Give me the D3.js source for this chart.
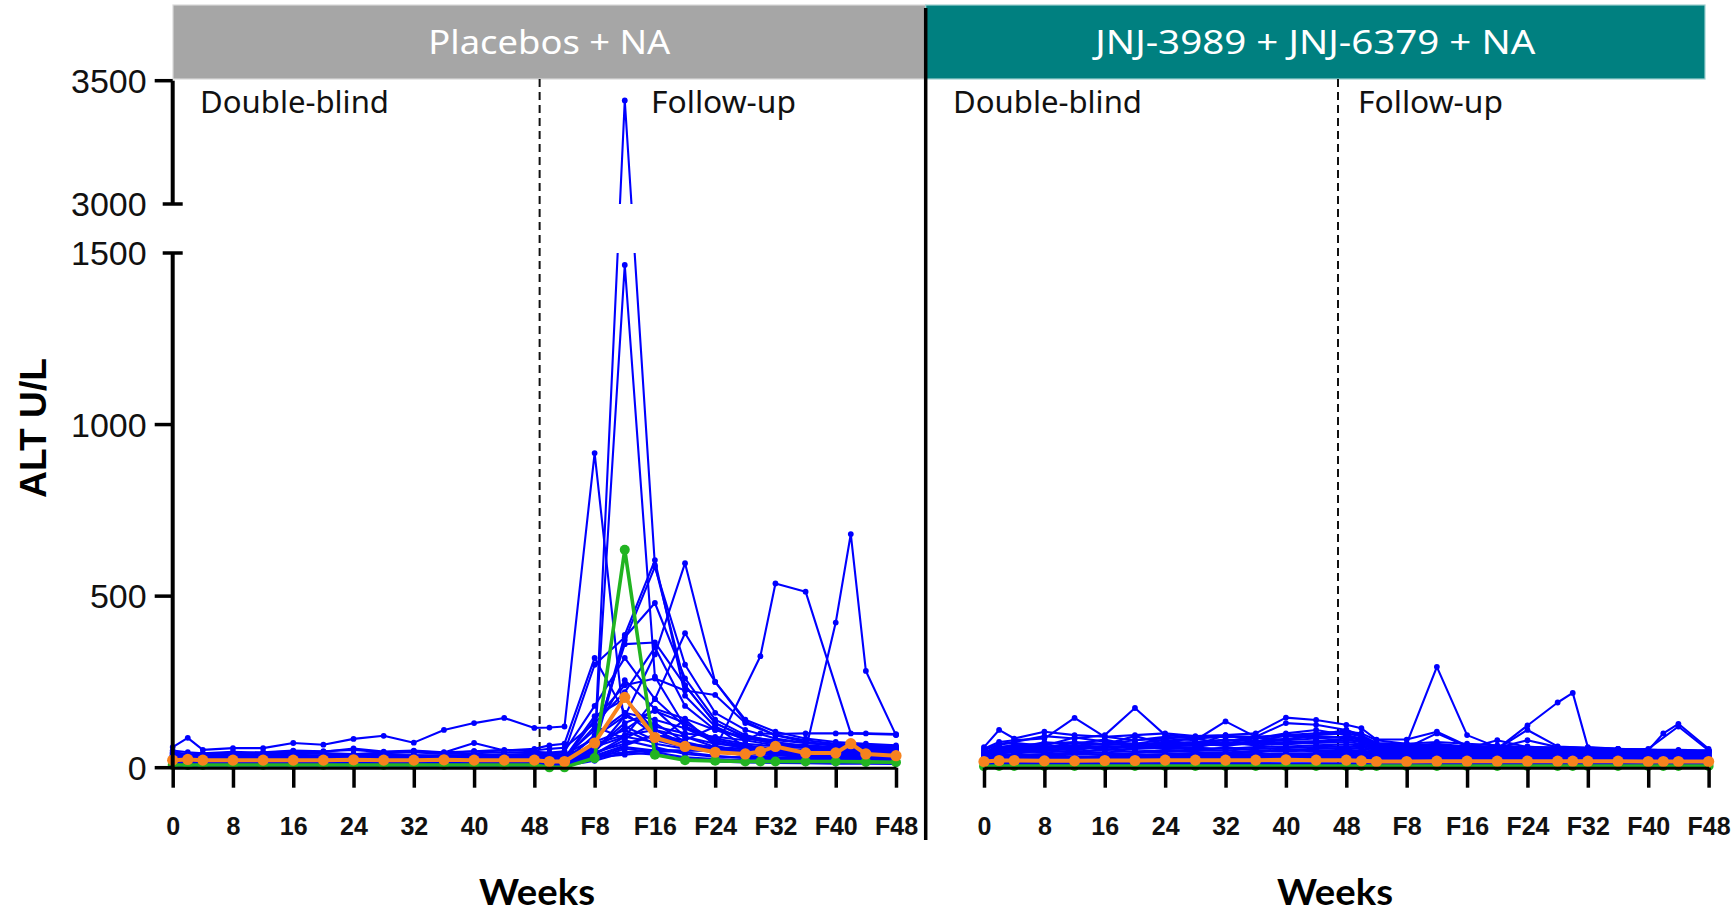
<!DOCTYPE html>
<html>
<head>
<meta charset="utf-8">
<script src="https://cdn.jsdelivr.net/npm/d3@7"></script>
<style>
  html, body { margin: 0; padding: 0; background: #ffffff; }
  svg { display: block; }
</style>
</head>
<body>
<svg id="chart" width="1734" height="914"></svg>
<script>
// ---------------------------------------------------------------
// Visit schedule: double-blind weeks 0-48, follow-up week Fk drawn at 48 + k
const visitWeeks = [0, 2, 4, 8, 12, 16, 20, 24, 28, 32, 36, 40, 44, 48,
                    50, 52, 56, 60, 64, 68, 72, 76, 78, 80, 84, 88, 90, 92, 96];
const tickWeeks  = [0, 8, 16, 24, 32, 40, 48, 56, 64, 72, 80, 88, 96];
const tickLabels = ["0", "8", "16", "24", "32", "40", "48", "F8", "F16", "F24", "F32", "F40", "F48"];
const yTicksLow  = [0, 500, 1000, 1500];
const yTicksHigh = [3000, 3500];
const panelTitles = ["Placebos + NA", "JNJ-3989 + JNJ-6379 + NA"];
const phaseLabels = ["Double-blind", "Follow-up"];

// ALT (U/L) per participant, one value per visit (null = no visit)
// Placebos + NA arm
const placeboBlue = [
  [60,87,52,57,57,72,67,84,93,73,110,130,145,116,  117,120,917,110,70,55,48,45,null,42,40,40,null,38,36],
  [32,30,34,33,31,35,33,30,34,36,33,35,38,36,       30,32,55,3420,590,240,130,90,null,70,62,58,null,55,52],
  [45,40,38,42,45,50,48,52,45,48,44,72,50,55,       65,70,320,160,95,70,60,55,null,50,48,45,null,45,42],
  [38,36,40,38,40,42,40,38,42,45,40,42,45,42,       40,45,300,380,480,260,140,95,null,75,62,58,null,55,52],
  [28,26,30,30,28,30,32,30,28,30,32,30,30,28,       30,28,65,387,605,210,120,80,null,65,58,52,null,50,48],
  [24,25,24,22,25,24,26,25,24,25,24,26,25,24,       22,25,45,150,330,596,250,135,null,95,75,65,null,60,55],
  [35,33,36,35,36,38,35,36,38,35,36,35,36,40,       38,40,60,372,585,300,160,110,null,85,72,64,null,60,55],
  [30,32,30,33,31,30,33,32,30,31,33,31,32,30,       32,35,40,90,200,392,250,140,null,105,85,75,null,70,65],
  [27,28,30,28,30,29,28,30,31,30,28,30,29,30,       28,30,35,45,52,50,55,null,325,537,513,null,100,null,96],
  [22,24,22,25,23,24,22,25,23,22,24,23,25,22,       24,22,30,38,45,50,48,52,null,55,50,423,681,282,95],
  [26,25,27,26,25,28,26,27,25,26,28,27,26,28,       30,32,60,1465,265,120,80,65,null,55,50,48,null,45,42],
  [33,35,32,34,33,35,34,33,35,34,33,35,34,33,       35,33,110,255,172,143,110,90,null,80,72,68,null,65,60],
  [20,21,22,20,21,22,20,21,22,20,21,22,20,21,       22,24,140,240,260,225,212,130,null,95,80,70,null,65,60],
  [18,17,19,18,17,18,19,18,17,18,19,18,17,18,       20,22,90,150,120,100,90,80,100,98,100,100,null,100,98],
  [15,16,14,15,16,15,14,16,15,14,16,15,14,15,       16,18,70,95,110,90,70,60,null,55,52,50,null,48,45],
  [12,13,12,11,12,13,12,11,13,12,11,12,13,12,       14,16,50,120,80,60,45,40,null,38,36,34,null,32,30],
  [10,9,10,11,10,9,10,11,10,9,10,11,10,9,           10,12,40,80,60,40,32,30,null,28,26,25,null,24,22],
  [8,7,8,9,8,7,8,9,8,7,8,9,8,7,                     8,10,35,65,95,70,50,35,null,30,28,26,null,25,24],
  [6,5,6,7,6,5,6,7,6,5,6,7,6,5,                     6,8,25,55,45,30,25,22,null,20,18,17,null,16,15],
  [42,38,40,44,41,45,43,40,44,46,42,48,44,46,       44,48,180,320,200,120,85,70,null,62,58,55,null,52,50],
  [50,45,42,46,44,48,46,56,47,50,45,48,52,50,       55,58,130,220,350,180,110,85,null,72,65,60,null,58,55],
  [36,34,35,37,38,36,35,38,37,36,35,38,37,36,       36,38,85,360,365,240,130,88,null,70,62,58,null,56,52],
  [16,17,16,18,17,16,18,17,16,18,17,16,18,17,       18,20,55,130,165,130,80,60,null,50,45,42,null,40,38],
  [4,4,5,4,5,4,5,4,5,4,5,4,5,4,                     5,6,20,45,38,25,18,15,null,14,13,12,null,12,11],
  [14,15,13,14,15,14,13,15,14,13,15,14,13,14,       15,17,95,160,140,115,75,55,null,45,40,38,null,36,34],
  [11,12,11,12,11,12,11,12,11,12,11,12,11,12,       12,14,75,110,170,90,60,45,null,40,36,34,null,32,30],
  [19,20,19,21,20,19,21,20,19,20,21,19,20,21,       22,25,120,85,130,75,55,48,null,44,40,38,null,36,35],
  [25,23,26,24,25,27,24,26,25,24,26,25,27,25,       26,28,150,200,110,70,52,46,null,42,40,38,null,38,36],
  [9,10,9,10,9,10,9,10,9,10,9,10,9,10,              10,11,60,90,75,140,65,42,null,36,32,30,null,29,28],
  [13,12,14,13,12,14,13,12,14,13,12,14,13,12,       13,15,45,70,95,80,120,60,null,40,35,33,null,31,30],
  [7,8,7,8,7,8,7,8,7,8,7,8,7,8,                     8,9,30,60,50,45,35,28,null,25,22,20,null,19,18]
];
const placeboGreen  = [8,8,8,8,8,8,8,8,8,8,8,8,8,8,  1,1,28,635,38,22,20,18,18,18,18,18,null,17,16];
const placeboOrange = [22,24,22,22,22,22,22,23,22,22,23,22,22,22,  18,18,72,205,88,62,45,40,47,62,43,43,70,40,35];

// JNJ-3989 + JNJ-6379 + NA arm
const activeBlue = [
  [60,110,85,105,95,90,95,100,92,95,100,146,139,125,   115,82,82,105,64,60,58,55,null,55,52,50,null,48,50],
  [55,75,80,85,145,90,80,90,85,90,88,92,95,110,        90,70,65,70,62,60,58,55,null,52,52,50,null,48,50],
  [50,70,75,92,85,95,174,95,88,92,90,95,100,105,       100,80,70,75,70,65,60,58,null,55,52,50,null,50,48],
  [45,60,65,70,75,70,80,85,80,135,90,130,125,110,      95,72,70,294,95,60,55,52,null,50,48,48,null,45,45],
  [40,55,60,62,65,68,70,72,75,80,85,100,110,95,        85,68,60,60,58,55,123,190,218,60,55,52,null,50,48],
  [35,50,55,58,60,62,60,65,70,72,75,80,85,90,          80,65,58,55,60,58,80,60,null,58,55,50,100,128,55],
  [38,55,58,62,60,60,65,68,72,75,70,72,75,80,          78,62,58,100,62,60,58,55,null,52,50,55,null,120,50],
  [30,45,50,52,55,58,60,62,65,68,72,75,78,85,          75,60,55,58,55,55,110,62,null,58,55,52,null,50,48],
  [28,42,45,48,62,52,55,58,60,74,65,70,72,75,          70,58,52,55,52,50,55,52,null,50,48,45,null,45,42],
  [32,40,48,45,48,50,68,55,58,55,60,62,65,68,          65,55,50,52,50,48,50,48,null,48,46,45,null,44,42],
  [25,38,40,52,44,45,48,50,52,50,55,58,60,62,          60,52,48,50,48,46,48,46,null,45,44,42,null,42,40],
  [22,35,38,40,42,55,45,46,48,60,50,52,55,58,          55,48,45,48,45,44,45,44,null,43,42,40,null,40,38],
  [20,32,35,36,38,40,42,52,45,45,48,48,50,52,          50,45,42,45,42,42,42,42,null,40,40,38,null,38,36],
  [18,30,32,34,44,36,38,40,42,42,44,55,46,48,          46,42,40,42,40,40,40,40,null,38,38,36,null,36,35],
  [16,28,30,32,32,34,35,36,38,38,40,42,42,44,          42,40,38,40,38,38,38,38,null,36,36,35,null,34,34],
  [15,25,28,28,30,30,32,34,35,35,36,38,40,40,          40,38,36,38,36,36,36,36,null,35,34,33,null,33,32],
  [14,22,25,26,28,28,30,30,32,32,34,35,36,38,          36,35,34,35,34,34,34,34,null,33,32,32,null,31,30],
  [12,20,22,24,25,26,27,28,29,30,30,32,33,35,          34,32,32,33,32,32,32,32,null,31,30,30,null,30,29],
  [10,18,20,22,22,24,25,26,26,27,28,30,30,32,          32,30,30,31,30,30,30,30,null,29,28,28,null,28,27],
  [9,15,18,20,20,22,22,24,24,25,26,27,28,30,           30,28,28,29,28,28,28,28,null,27,26,26,null,26,25],
  [8,14,16,18,18,20,20,22,22,23,24,25,26,28,           28,26,26,27,26,26,26,26,null,25,25,24,null,24,24],
  [7,12,14,16,16,18,18,20,20,21,22,23,24,25,           25,24,24,25,24,24,24,24,null,23,23,22,null,22,22],
  [6,10,12,14,14,16,16,18,18,19,20,20,21,22,           22,21,21,22,21,21,21,21,null,20,20,20,null,20,19],
  [5,9,10,12,12,14,14,15,16,16,17,18,18,19,            19,18,18,19,18,18,18,18,null,17,17,17,null,17,16],
  [4,6,8,9,9,10,10,11,11,12,12,12,13,13,               13,12,12,13,12,12,12,12,null,12,12,11,null,11,11],
  [3,4,5,6,6,6,7,7,7,8,8,8,8,9,                        9,8,8,8,8,8,8,8,null,8,8,8,null,7,7],
  [42,68,72,64,88,76,70,82,66,95,78,84,92,88,          86,66,60,64,58,56,62,56,null,54,52,50,null,50,48],
  [36,62,58,74,70,82,64,76,85,70,88,80,96,100,         92,70,62,66,60,58,56,60,null,56,54,52,null,52,50],
  [34,58,66,60,72,68,92,70,74,82,76,94,86,90,          82,64,60,58,56,80,60,58,null,56,52,50,null,50,48],
  [26,48,52,56,50,64,58,62,70,64,72,68,76,80,          76,60,56,60,54,54,58,54,null,52,50,48,null,48,46]
];
const activeGreen  = [4,5,5,5,5,5,5,5,5,5,5,5,5,5,  5,5,5,5,5,5,5,5,5,5,5,5,5,5,5];
const activeOrange = [18,21,21,20,20,21,21,22,22,22,22,23,22,22,  20,18,18,19,19,19,19,19,19,19,19,18,18,18,18];

// ---------------------------------------------------------------
// Layout
const svg = d3.select("#chart");
const Y_ZERO = 767.7, Y_1500 = 253, Y_3000 = 204, Y_3500 = 80.7;
const HEADER_TOP = 5, HEADER_BOTTOM = 79;
const panels = [
  { x0: 172.7, x1: 896,    boxL: 173,   boxR: 925.7, fill: "#a6a6a6", edge: "#d9d9d9", dashWeek: 48.7,
    blue: placeboBlue, green: placeboGreen, orange: placeboOrange,
    dbX: 200, fuX: 651, weeksX: 537 },
  { x0: 984,   x1: 1708.6, boxL: 925.7, boxR: 1705,  fill: "#008080", edge: "#9fd0d0", dashWeek: 46.9,
    blue: activeBlue, green: activeGreen, orange: activeOrange,
    dbX: 953, fuX: 1358, weeksX: 1335 }
];
const titleWidths = [242, 440];

// Broken y axis: 0-1500 below the break, 3000-3500 above it
const y = d3.scaleLinear()
  .domain([0, 1500, 3000, 3500])
  .range([Y_ZERO, Y_1500, Y_3000, Y_3500]);

const BLUE = "#0000ff", GREEN = "#22b422", ORANGE = "#f7821e";

// helper: fit text to a given width
function fitText(sel, w) {
  sel.attr("textLength", w).attr("lengthAdjust", "spacingAndGlyphs");
}

panels.forEach((p, pi) => {
  const x = d3.scaleLinear().domain([0, 96]).range([p.x0, p.x1]);
  const g = svg.append("g");

  // header band
  g.append("rect")
    .attr("x", p.boxL).attr("y", HEADER_TOP)
    .attr("width", p.boxR - p.boxL).attr("height", HEADER_BOTTOM - HEADER_TOP)
    .attr("fill", p.fill).attr("stroke", p.edge).attr("stroke-width", 1.2);
  g.append("text")
    .attr("x", (p.boxL + p.boxR) / 2).attr("y", 54)
    .attr("text-anchor", "middle")
    .attr("font-family", "'Noto Sans', 'Open Sans', sans-serif")
    .attr("font-size", 33).attr("fill", "#ffffff")
    .text(panelTitles[pi])
    .call(fitText, titleWidths[pi]);

  // phase labels
  g.append("text").attr("x", p.dbX).attr("y", 113)
    .attr("font-family", "'Noto Sans', 'Open Sans', sans-serif").attr("font-size", 30)
    .attr("fill", "#111").text(phaseLabels[0]).call(fitText, 189);
  g.append("text").attr("x", p.fuX).attr("y", 113)
    .attr("font-family", "'Noto Sans', 'Open Sans', sans-serif").attr("font-size", 30)
    .attr("fill", "#111").text(phaseLabels[1]).call(fitText, 145);

  // end of double-blind treatment
  g.append("line")
    .attr("x1", x(p.dashWeek)).attr("x2", x(p.dashWeek))
    .attr("y1", HEADER_BOTTOM).attr("y2", Y_ZERO)
    .attr("stroke", "#111").attr("stroke-width", 2)
    .attr("stroke-dasharray", "8,5");

  // clip: lines are hidden inside the axis break
  const clipId = "clip" + pi;
  const cp = svg.append("clipPath").attr("id", clipId);
  cp.append("rect").attr("x", p.x0 - 10).attr("width", p.x1 - p.x0 + 20)
    .attr("y", HEADER_BOTTOM).attr("height", Y_3000 - HEADER_BOTTOM);
  cp.append("rect").attr("x", p.x0 - 10).attr("width", p.x1 - p.x0 + 20)
    .attr("y", Y_1500).attr("height", 800 - Y_1500);

  const plot = g.append("g").attr("clip-path", `url(#${clipId})`);
  const pts = arr => visitWeeks.map((w, i) => ({ w, v: arr[i] })).filter(d => d.v !== null);
  const line = d3.line().x(d => x(d.w)).y(d => y(d.v));

  function drawSeries(arr, color, lw, r) {
    const d = pts(arr);
    plot.append("path").datum(d).attr("d", line)
      .attr("fill", "none").attr("stroke", color)
      .attr("stroke-width", lw).attr("stroke-linejoin", "round");
    plot.append("g").selectAll("circle").data(d).join("circle")
      .attr("cx", e => x(e.w)).attr("cy", e => y(e.v)).attr("r", r)
      .attr("fill", color);
  }
  p.blue.forEach(s => drawSeries(s, BLUE, 2.1, 2.9));
  drawSeries(p.green, GREEN, 3.6, 5);
  drawSeries(p.orange, ORANGE, 4, 5.6);

  // x axis
  const xAxis = d3.axisBottom(x)
    .tickValues(tickWeeks)
    .tickFormat((d, i) => tickLabels[i])
    .tickSize(20).tickSizeOuter(0).tickPadding(30);
  const ax = g.append("g").attr("transform", `translate(0,${Y_ZERO})`).call(xAxis);
  ax.select(".domain").attr("stroke", "#000").attr("stroke-width", 3);
  ax.selectAll(".tick line").attr("stroke", "#000").attr("stroke-width", 3.5);
  ax.selectAll(".tick text")
    .attr("font-family", "'Liberation Sans', Arial, sans-serif")
    .attr("font-weight", "bold").attr("font-size", 25).attr("fill", "#111");

  // axis title
  g.append("text").attr("x", p.weeksX).attr("y", 905)
    .attr("text-anchor", "middle")
    .attr("font-family", "Lato, 'Open Sans', sans-serif").attr("font-weight", "bold")
    .attr("font-size", 36).attr("fill", "#000").text("Weeks").call(fitText, 116);
});

// ---------------------------------------------------------------
// Left y axis (broken)
const AX = 172.7;
const yAx = svg.append("g");
yAx.append("line").attr("x1", AX).attr("x2", AX).attr("y1", y(1500)).attr("y2", y(0))
  .attr("stroke", "#000").attr("stroke-width", 4);
yAx.append("line").attr("x1", AX).attr("x2", AX).attr("y1", y(3500)).attr("y2", y(3000))
  .attr("stroke", "#000").attr("stroke-width", 4);

const allTicks = yTicksLow.concat(yTicksHigh);
const breakTicks = [1500, 3000];
yAx.selectAll("line.tk").data(allTicks).join("line").attr("class", "tk")
  .attr("x1", d => breakTicks.includes(d) ? AX - 10 : AX - 18)
  .attr("x2", d => breakTicks.includes(d) ? AX + 10 : AX)
  .attr("y1", d => y(d)).attr("y2", d => y(d))
  .attr("stroke", "#000").attr("stroke-width", 3.5);
yAx.selectAll("text.tl").data(allTicks).join("text").attr("class", "tl")
  .attr("x", AX - 26).attr("y", d => y(d)).attr("dy", "0.36em")
  .attr("text-anchor", "end")
  .attr("font-family", "'Liberation Sans', Arial, sans-serif")
  .attr("font-size", 34).attr("fill", "#111")
  .text(d => d);

// y axis title
svg.append("text")
  .attr("transform", "translate(46,428) rotate(-90)")
  .attr("text-anchor", "middle")
  .attr("font-family", "'Liberation Sans', Arial, sans-serif")
  .attr("font-weight", "bold").attr("font-size", 36).attr("fill", "#000")
  .text("ALT U/L").call(fitText, 140);

// divider between the two arms
svg.append("line").attr("x1", 925.7).attr("x2", 925.7).attr("y1", 8).attr("y2", 840)
  .attr("stroke", "#000").attr("stroke-width", 3.5);
</script>
</body>
</html>
